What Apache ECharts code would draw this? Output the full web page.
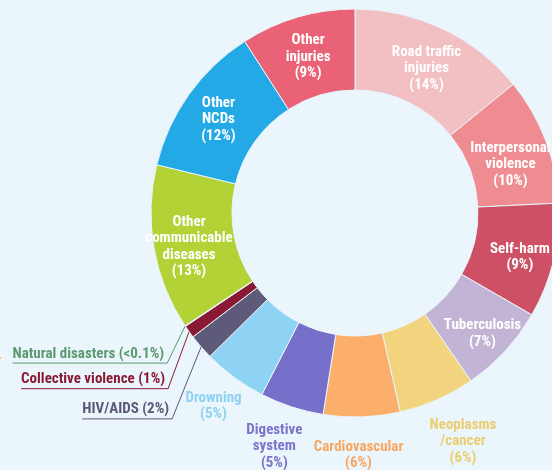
<!DOCTYPE html>
<html>
<head>
<meta charset="utf-8">
<script src="https://cdn.jsdelivr.net/npm/echarts@6/dist/echarts.min.js"></script>
<style>
  html, body { margin: 0; padding: 0; background: #ebf5fc; }
  #chart { width: 552px; height: 470px; }
</style>
</head>
<body>
<div id="chart"></div>
<script>
// Causes of death, clockwise from 12 o'clock
const causes = [
  'Road traffic\ninjuries', 'Interpersonal\nviolence', 'Self-harm', 'Tuberculosis',
  'Neoplasms\n/cancer', 'Cardiovascular', 'Digestive\nsystem', 'Drowning',
  'HIV/AIDS', 'Collective violence', 'Natural disasters',
  'Other\ncommunicable\ndiseases', 'Other\nNCDs', 'Other\ninjuries'
];
const shares = [14, 10, 9, 7, 6, 6, 5, 5, 2, 1, 0.05, 13, 12, 9];
const shareLabels = ['14%', '10%', '9%', '7%', '6%', '6%', '5%', '5%', '2%', '1%', '<0.1%', '13%', '12%', '9%'];

// Styling per slice
const sliceColors = [
  '#f2bfc2', '#ef8c91', '#cd5064', '#c2b4d4', '#f3d47e', '#fcae6b', '#7670cb',
  '#8ed3f3', '#5e5a7a', '#8a1a33', '#5b9a70', '#b3d236', '#23a9e6', '#e96275'
];
const textColors = {
  4: '#e9cf72', 5: '#f8a862', 6: '#7b75cc', 7: '#8ed1f0',
  8: '#5c5877', 9: '#8a1a33', 10: '#5b9a70'
};
// 'in': white text on the ring, 'out': coloured text under the ring, 'lead': leader line to the left
const labelMode = ['in', 'in', 'in', 'in', 'out', 'out', 'out', 'out', 'lead', 'lead', 'lead', 'in', 'in', 'in'];
// label nudges (px) from the default ring position
const nudges = {
  0: [0, 6], 1: [0, 11], 2: [3, 5], 3: [5, 8], 11: [-2, 5], 12: [-1, 3], 13: [0, 4],
  4: [41, 76], 5: [-2, 76], 6: [-29, 75], 7: [-43, 59]
};
// leader elbows relative to the slice anchor point
const leaders = { 8: [-29, 72], 9: [-21, 57], 10: [-18, 37] };

const FONT = "'Roboto Condensed', 'Liberation Sans Narrow', sans-serif";

const data = causes.map((name, i) => {
  const mode = labelMode[i];
  const item = { name, value: shares[i], itemStyle: { color: sliceColors[i] } };
  if (mode === 'lead') {
    item.label = { position: 'outside', color: textColors[i] };
    item.labelLine = { show: true, length: 8, length2: 8, lineStyle: { color: textColors[i], width: 1 } };
  } else {
    item.label = { position: 'inside', color: mode === 'out' ? textColors[i] : '#ffffff' };
    item.labelLine = { show: false };
  }
  return item;
});

const chart = echarts.init(document.getElementById('chart'), null, { renderer: 'canvas' });
chart.setOption({
  backgroundColor: '#ebf5fc',
  animation: false,
  graphic: [{
    type: 'text', left: -4, top: 354,
    style: { text: 'r', fill: '#f8a862', font: 'bold 15px ' + FONT }
  }],
  series: [{
    type: 'pie',
    center: [355, 213],
    radius: [123, 204],
    startAngle: 90,
    clockwise: true,
    avoidLabelOverlap: false,
    silent: true,
    itemStyle: { borderColor: '#ebf5fc', borderWidth: 1 },
    label: {
      show: true,
      fontFamily: FONT,
      fontWeight: 'bold',
      fontSize: 15,
      lineHeight: 16.5,
      formatter: p => labelMode[p.dataIndex] === 'lead'
        ? p.name + ' (' + shareLabels[p.dataIndex] + ')'
        : p.name + '\n(' + shareLabels[p.dataIndex] + ')'
    },
    labelLayout: function (params) {
      const i = params.dataIndex;
      if (labelMode[i] === 'lead') {
        const p0 = params.labelLinePoints[0];
        const off = leaders[i];
        const cx = p0[0] + off[0];
        const ly = p0[1] + off[1];
        const w = params.labelRect.width;
        return {
          x: cx - 3, y: ly - 1, align: 'right', verticalAlign: 'bottom',
          labelLinePoints: [p0, [cx, ly], [cx - 3 - w, ly]]
        };
      }
      const n = nudges[i];
      return n ? { dx: n[0], dy: n[1] } : {};
    },
    data
  }]
});
</script>
</body>
</html>
